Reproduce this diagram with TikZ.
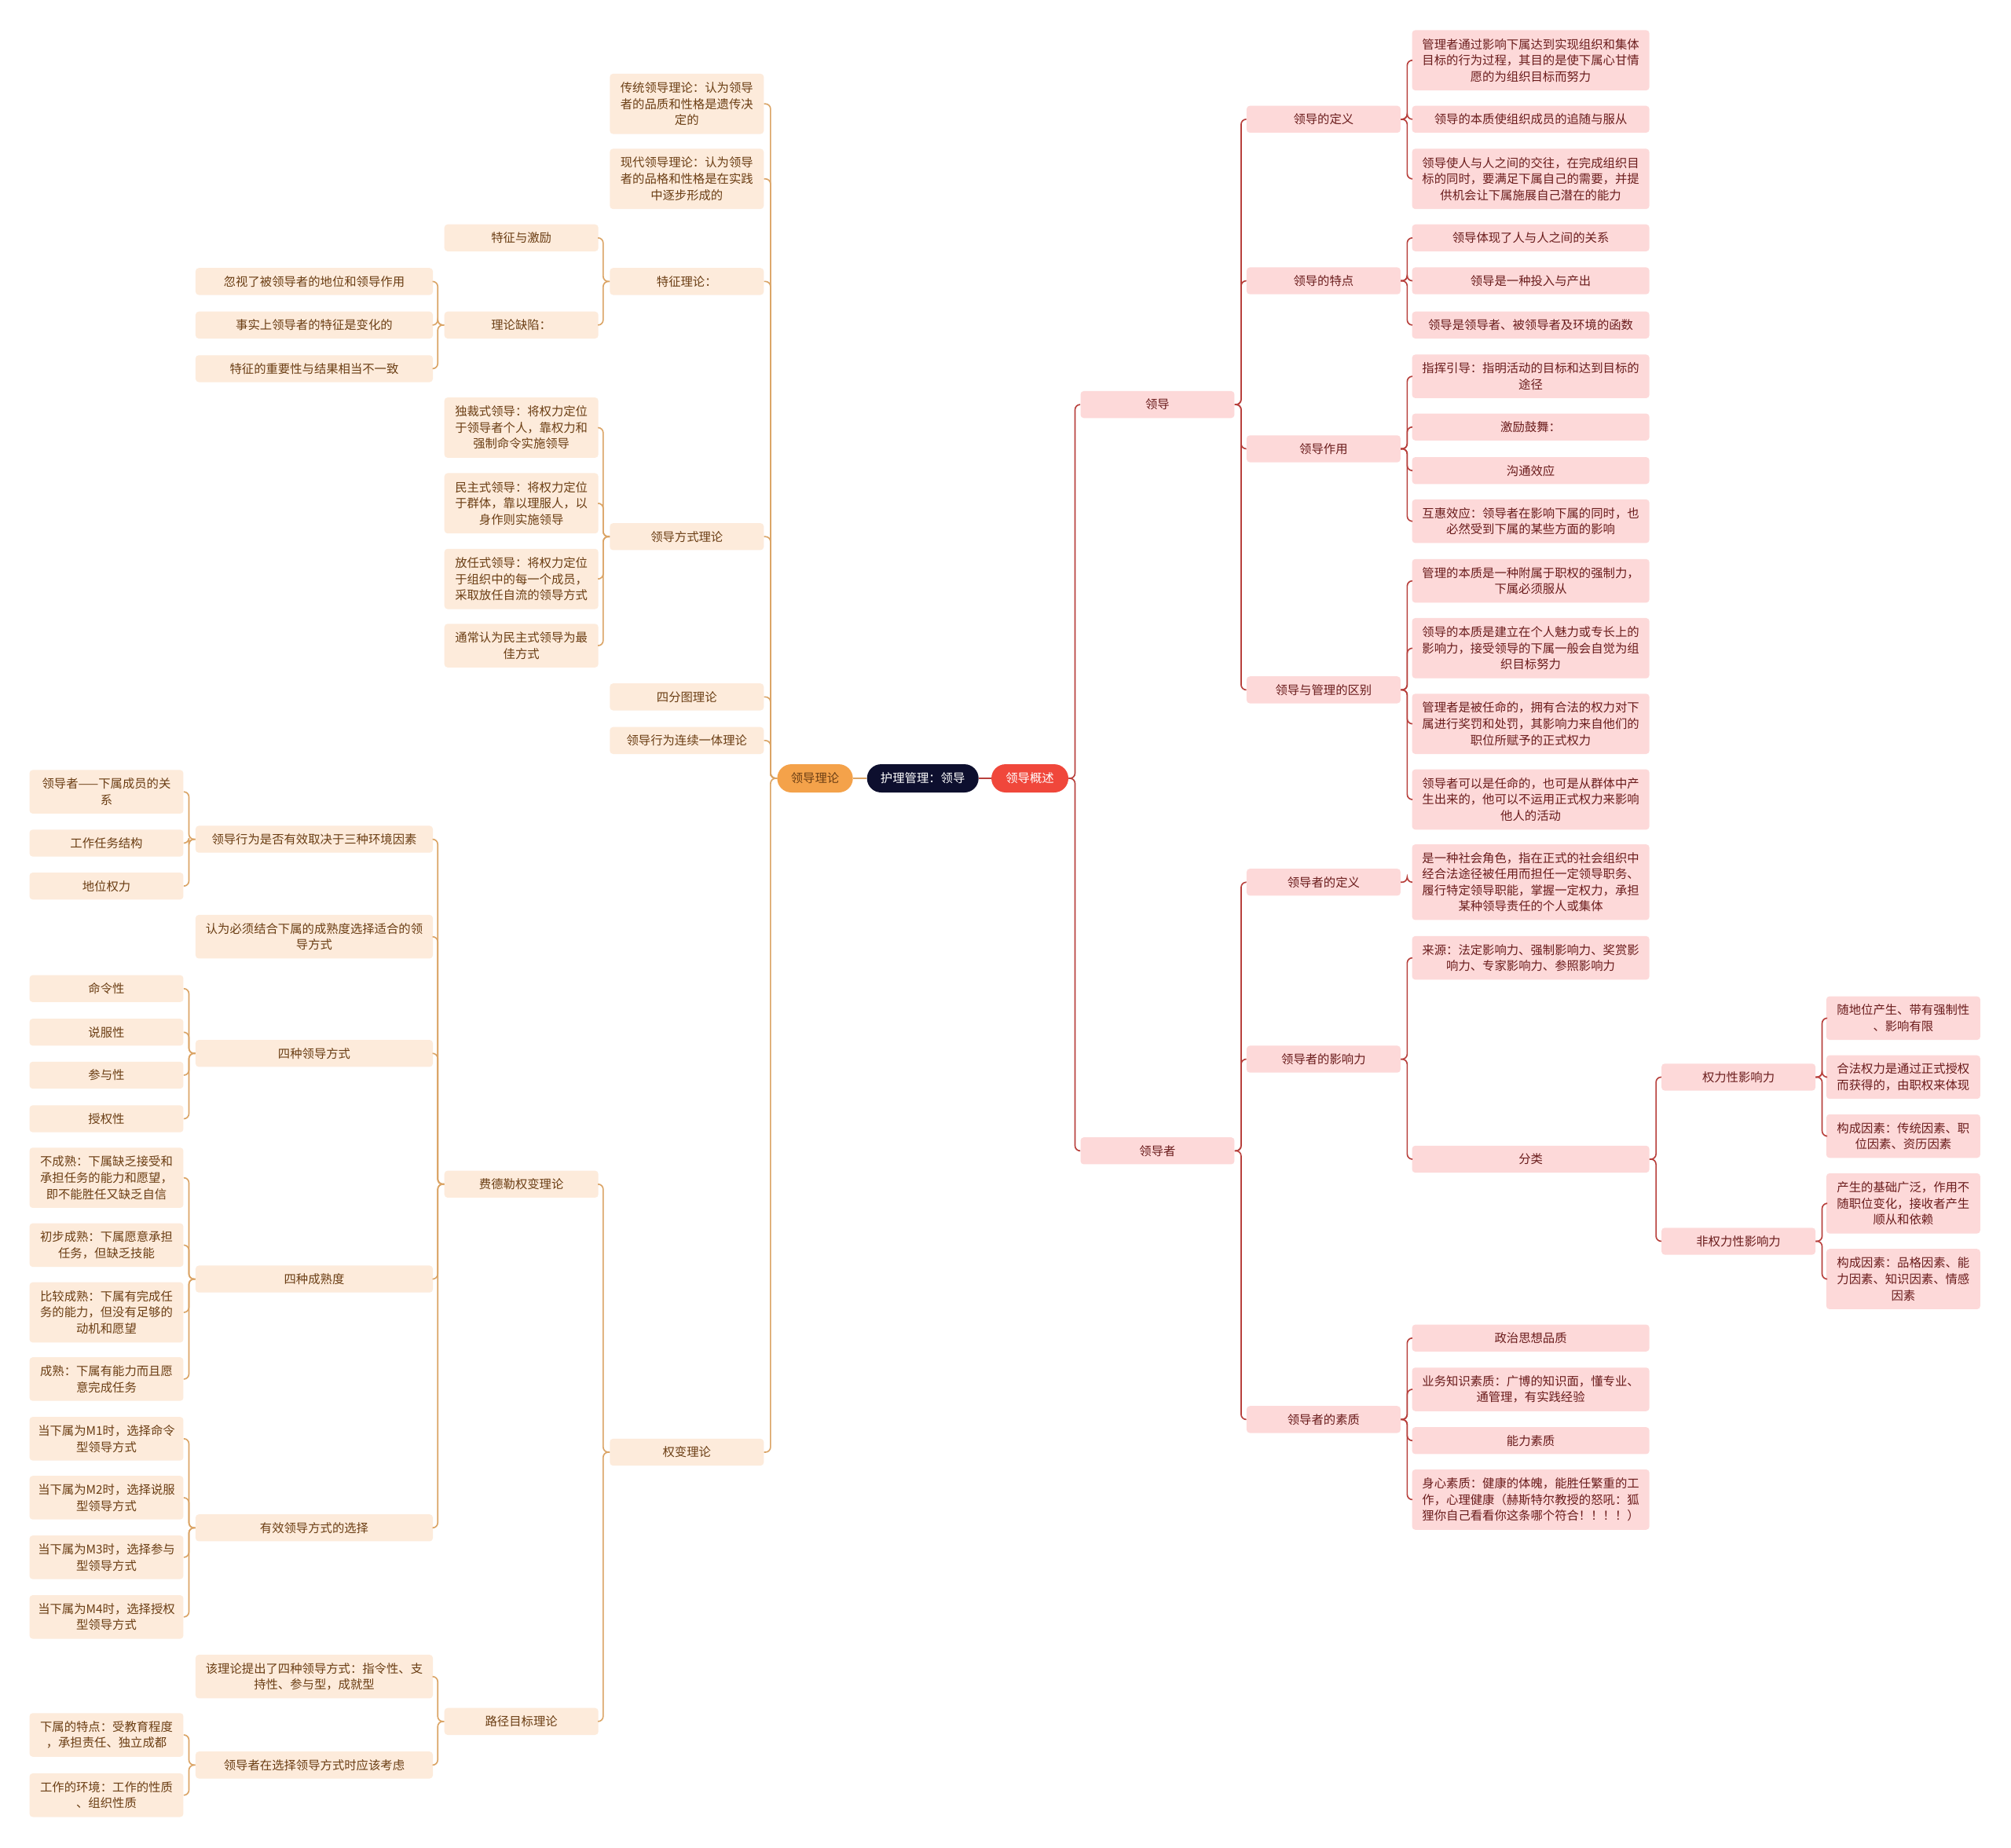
\documentclass[tikz,border=0pt]{standalone}
\usepackage{fontspec}
\setmainfont{Noto Sans CJK SC}
\definecolor{rfill}{HTML}{FDD9D9}
\definecolor{rtext}{HTML}{6A1C1C}
\definecolor{rline}{HTML}{B8403C}
\definecolor{lfill}{HTML}{FDEBDB}
\definecolor{ltext}{HTML}{6B3E14}
\definecolor{lline}{HTML}{DBA465}
\definecolor{navy}{HTML}{0D0F2E}
\definecolor{redc}{HTML}{F0473B}
\definecolor{orangec}{HTML}{F4A24A}
\tikzset{
 x=1pt,y=-1pt,
 base/.style={rectangle, rounded corners=2.5pt, inner sep=0pt, align=center, font=\fontsize{9.4}{12.6}\selectfont},
 boxR/.style={base, fill=rfill, text=rtext},
 boxL/.style={base, fill=lfill, text=ltext},
 pill/.style={base, rounded corners=11pt, minimum height=22pt},
 wS/.style={minimum width=120pt},
 wL/.style={minimum width=185pt},
 hA/.style={minimum height=21pt},
 hB/.style={minimum height=34pt},
 hC/.style={minimum height=47pt},
 hD/.style={minimum height=59pt},
 lineR/.style={draw=rline, line width=1pt, rounded corners=4pt},
 lineL/.style={draw=lline, line width=1pt, rounded corners=4pt},
}
\newcommand\cR[2]{\draw[lineR] (#1.east) -- ++(5,0) |- (#2.west);}
\newcommand\cL[2]{\draw[lineL] (#1.west) -- ++(-5,0) |- (#2.east);}
\begin{document}
\begin{tikzpicture}
\path[use as bounding box, fill=white] (0,0) rectangle (1568,1441);
% center
\node[pill, fill=navy, text=white, minimum width=87pt] (root) at (719.5,607) {护理管理：领导};
\node[pill, fill=redc, text=white, minimum width=60pt] (over) at (803,607) {领导概述};
\node[pill, fill=orangec, text=ltext, minimum width=59pt] (theory) at (635.5,607) {领导理论};
\draw[lineL] (root.west) -- (theory.east);
\draw[lineR] (root.east) -- (over.west);

% ===== right side =====
\node[boxR,wS,hA] (RA) at (902.5,315.5) {领导};
\node[boxR,wS,hA] (RB) at (902.5,897.5) {领导者};
\node[boxR,wS,hA] (RA1) at (1032,93) {领导的定义};
\node[boxR,wS,hA] (RA2) at (1032,219) {领导的特点};
\node[boxR,wS,hA] (RA3) at (1032,350) {领导作用};
\node[boxR,wS,hA] (RA4) at (1032,538) {领导与管理的区别};
\node[boxR,wS,hA] (RB1) at (1032,688) {领导者的定义};
\node[boxR,wS,hA] (RB2) at (1032,826) {领导者的影响力};
\node[boxR,wS,hA] (RB3) at (1032,1107) {领导者的素质};

\node[boxR,wL,hC] (RA1a) at (1193.5,47) {管理者通过影响下属达到实现组织和集体\\目标的行为过程，其目的是使下属心甘情\\愿的为组织目标而努力};
\node[boxR,wL,hA] (RA1b) at (1193.5,93) {领导的本质使组织成员的追随与服从};
\node[boxR,wL,hC] (RA1c) at (1193.5,139.5) {领导使人与人之间的交往，在完成组织目\\标的同时，要满足下属自己的需要，并提\\供机会让下属施展自己潜在的能力};
\node[boxR,wL,hA] (RA2a) at (1193.5,185.5) {领导体现了人与人之间的关系};
\node[boxR,wL,hA] (RA2b) at (1193.5,219) {领导是一种投入与产出};
\node[boxR,wL,hA] (RA2c) at (1193.5,253.5) {领导是领导者、被领导者及环境的函数};
\node[boxR,wL,hB] (RA3a) at (1193.5,293.5) {指挥引导：指明活动的目标和达到目标的\\途径};
\node[boxR,wL,hA] (RA3b) at (1193.5,333) {激励鼓舞：};
\node[boxR,wL,hA] (RA3c) at (1193.5,367) {沟通效应};
\node[boxR,wL,hB] (RA3d) at (1193.5,406.5) {互惠效应：领导者在影响下属的同时，也\\必然受到下属的某些方面的影响};
\node[boxR,wL,hB] (RA4a) at (1193.5,453) {管理的本质是一种附属于职权的强制力，\\下属必须服从};
\node[boxR,wL,hC] (RA4b) at (1193.5,505.5) {领导的本质是建立在个人魅力或专长上的\\影响力，接受领导的下属一般会自觉为组\\织目标努力};
\node[boxR,wL,hC] (RA4c) at (1193.5,564.5) {管理者是被任命的，拥有合法的权力对下\\属进行奖罚和处罚，其影响力来自他们的\\职位所赋予的正式权力};
\node[boxR,wL,hC] (RA4d) at (1193.5,623.5) {领导者可以是任命的，也可是从群体中产\\生出来的，他可以不运用正式权力来影响\\他人的活动};
\node[boxR,wL,hD] (RB1a) at (1193.5,688) {是一种社会角色，指在正式的社会组织中\\经合法途径被任用而担任一定领导职务、\\履行特定领导职能，掌握一定权力，承担\\某种领导责任的个人或集体};
\node[boxR,wL,hB] (RB2a) at (1193.5,747) {来源：法定影响力、强制影响力、奖赏影\\响力、专家影响力、参照影响力};
\node[boxR,wL,hA] (RB2b) at (1193.5,904) {分类};
\node[boxR,wL,hA] (RB3a) at (1193.5,1043.5) {政治思想品质};
\node[boxR,wL,hB] (RB3b) at (1193.5,1083.5) {业务知识素质：广博的知识面，懂专业、\\通管理，有实践经验};
\node[boxR,wL,hA] (RB3c) at (1193.5,1123.5) {能力素质};
\node[boxR,wL,hC] (RB3d) at (1193.5,1169.5) {身心素质：健康的体魄，能胜任繁重的工\\作，心理健康（赫斯特尔教授的怒吼：狐\\狸你自己看看你这条哪个符合！！！！）};

\node[boxR,wS,hA] (RB2b1) at (1355.5,840) {权力性影响力};
\node[boxR,wS,hA] (RB2b2) at (1355.5,968) {非权力性影响力};
\node[boxR,wS,hB] (RB2b1a) at (1484,794) {随地位产生、带有强制性\\、影响有限};
\node[boxR,wS,hB] (RB2b1b) at (1484,840) {合法权力是通过正式授权\\而获得的，由职权来体现};
\node[boxR,wS,hB] (RB2b1c) at (1484,886) {构成因素：传统因素、职\\位因素、资历因素};
\node[boxR,wS,hC] (RB2b2a) at (1484,938.5) {产生的基础广泛，作用不\\随职位变化，接收者产生\\顺从和依赖};
\node[boxR,wS,hC] (RB2b2b) at (1484,997.5) {构成因素：品格因素、能\\力因素、知识因素、情感\\因素};

\foreach \c in {RA,RB} {\cR{over}{\c}}
\foreach \c in {RA1,RA2,RA3,RA4} {\cR{RA}{\c}}
\foreach \c in {RB1,RB2,RB3} {\cR{RB}{\c}}
\foreach \c in {RA1a,RA1b,RA1c} {\cR{RA1}{\c}}
\foreach \c in {RA2a,RA2b,RA2c} {\cR{RA2}{\c}}
\foreach \c in {RA3a,RA3b,RA3c,RA3d} {\cR{RA3}{\c}}
\foreach \c in {RA4a,RA4b,RA4c,RA4d} {\cR{RA4}{\c}}
\cR{RB1}{RB1a}
\foreach \c in {RB2a,RB2b} {\cR{RB2}{\c}}
\foreach \c in {RB3a,RB3b,RB3c,RB3d} {\cR{RB3}{\c}}
\foreach \c in {RB2b1,RB2b2} {\cR{RB2b}{\c}}
\foreach \c in {RB2b1a,RB2b1b,RB2b1c} {\cR{RB2b1}{\c}}
\foreach \c in {RB2b2a,RB2b2b} {\cR{RB2b2}{\c}}

% ===== left side =====
\node[boxL,wS,hC] (LA) at (535.5,81) {传统领导理论：认为领导\\者的品质和性格是遗传决\\定的};
\node[boxL,wS,hC] (LB) at (535.5,139.5) {现代领导理论：认为领导\\者的品格和性格是在实践\\中逐步形成的};
\node[boxL,wS,hA] (LC) at (535.5,219.5) {特征理论：};
\node[boxL,wS,hA] (LD) at (535.5,418.5) {领导方式理论};
\node[boxL,wS,hA] (LE) at (535.5,543.5) {四分图理论};
\node[boxL,wS,hA] (LF) at (535.5,577.5) {领导行为连续一体理论};
\node[boxL,wS,hA] (LG) at (535.5,1132.5) {权变理论};

\node[boxL,wS,hA] (LC1) at (406.5,185.5) {特征与激励};
\node[boxL,wS,hA] (LC2) at (406.5,253.5) {理论缺陷：};
\node[boxL,wS,hC] (LD1) at (406.5,333.5) {独裁式领导：将权力定位\\于领导者个人，靠权力和\\强制命令实施领导};
\node[boxL,wS,hC] (LD2) at (406.5,392.5) {民主式领导：将权力定位\\于群体，靠以理服人，以\\身作则实施领导};
\node[boxL,wS,hC] (LD3) at (406.5,451.5) {放任式领导：将权力定位\\于组织中的每一个成员，\\采取放任自流的领导方式};
\node[boxL,wS,hB] (LD4) at (406.5,503.5) {通常认为民主式领导为最\\佳方式};
\node[boxL,wS,hA] (LG1) at (406.5,923.5) {费德勒权变理论};
\node[boxL,wS,hA] (LG2) at (406.5,1342.5) {路径目标理论};

\node[boxL,wL,hA] (LC2a) at (245,219.5) {忽视了被领导者的地位和领导作用};
\node[boxL,wL,hA] (LC2b) at (245,253.5) {事实上领导者的特征是变化的};
\node[boxL,wL,hA] (LC2c) at (245,287.5) {特征的重要性与结果相当不一致};
\node[boxL,wL,hA] (LG1a) at (245,654.5) {领导行为是否有效取决于三种环境因素};
\node[boxL,wL,hB] (LG1b) at (245,730.5) {认为必须结合下属的成熟度选择适合的领\\导方式};
\node[boxL,wL,hA] (LG1c) at (245,821.5) {四种领导方式};
\node[boxL,wL,hA] (LG1d) at (245,997.5) {四种成熟度};
\node[boxL,wL,hA] (LG1e) at (245,1191.5) {有效领导方式的选择};
\node[boxL,wL,hB] (LG2a) at (245,1307.5) {该理论提出了四种领导方式：指令性、支\\持性、参与型，成就型};
\node[boxL,wL,hA] (LG2b) at (245,1376.5) {领导者在选择领导方式时应该考虑};

\node[boxL,wS,hB] (LG1a1) at (83,617.5) {领导者——下属成员的关\\系};
\node[boxL,wS,hA] (LG1a2) at (83,657.5) {工作任务结构};
\node[boxL,wS,hA] (LG1a3) at (83,691) {地位权力};
\node[boxL,wS,hA] (LG1c1) at (83,771) {命令性};
\node[boxL,wS,hA] (LG1c2) at (83,805) {说服性};
\node[boxL,wS,hA] (LG1c3) at (83,838.5) {参与性};
\node[boxL,wS,hA] (LG1c4) at (83,872.5) {授权性};
\node[boxL,wS,hC] (LG1d1) at (83,918.5) {不成熟：下属缺乏接受和\\承担任务的能力和愿望，\\即不能胜任又缺乏自信};
\node[boxL,wS,hB] (LG1d2) at (83,971) {初步成熟：下属愿意承担\\任务，但缺乏技能};
\node[boxL,wS,hC] (LG1d3) at (83,1023.5) {比较成熟：下属有完成任\\务的能力，但没有足够的\\动机和愿望};
\node[boxL,wS,hB] (LG1d4) at (83,1075.5) {成熟：下属有能力而且愿\\意完成任务};
\node[boxL,wS,hB] (LG1e1) at (83,1122) {当下属为M1时，选择命令\\型领导方式};
\node[boxL,wS,hB] (LG1e2) at (83,1168) {当下属为M2时，选择说服\\型领导方式};
\node[boxL,wS,hB] (LG1e3) at (83,1214.5) {当下属为M3时，选择参与\\型领导方式};
\node[boxL,wS,hB] (LG1e4) at (83,1261) {当下属为M4时，选择授权\\型领导方式};
\node[boxL,wS,hB] (LG2b1) at (83,1353) {下属的特点：受教育程度\\，承担责任、独立成都};
\node[boxL,wS,hB] (LG2b2) at (83,1400) {工作的环境：工作的性质\\、组织性质};

\foreach \c in {LA,LB,LC,LD,LE,LF,LG} {\cL{theory}{\c}}
\foreach \c in {LC1,LC2} {\cL{LC}{\c}}
\foreach \c in {LC2a,LC2b,LC2c} {\cL{LC2}{\c}}
\foreach \c in {LD1,LD2,LD3,LD4} {\cL{LD}{\c}}
\foreach \c in {LG1,LG2} {\cL{LG}{\c}}
\foreach \c in {LG1a,LG1b,LG1c,LG1d,LG1e} {\cL{LG1}{\c}}
\foreach \c in {LG2a,LG2b} {\cL{LG2}{\c}}
\foreach \c in {LG1a1,LG1a2,LG1a3} {\cL{LG1a}{\c}}
\foreach \c in {LG1c1,LG1c2,LG1c3,LG1c4} {\cL{LG1c}{\c}}
\foreach \c in {LG1d1,LG1d2,LG1d3,LG1d4} {\cL{LG1d}{\c}}
\foreach \c in {LG1e1,LG1e2,LG1e3,LG1e4} {\cL{LG1e}{\c}}
\foreach \c in {LG2b1,LG2b2} {\cL{LG2b}{\c}}
\end{tikzpicture}
\end{document}
